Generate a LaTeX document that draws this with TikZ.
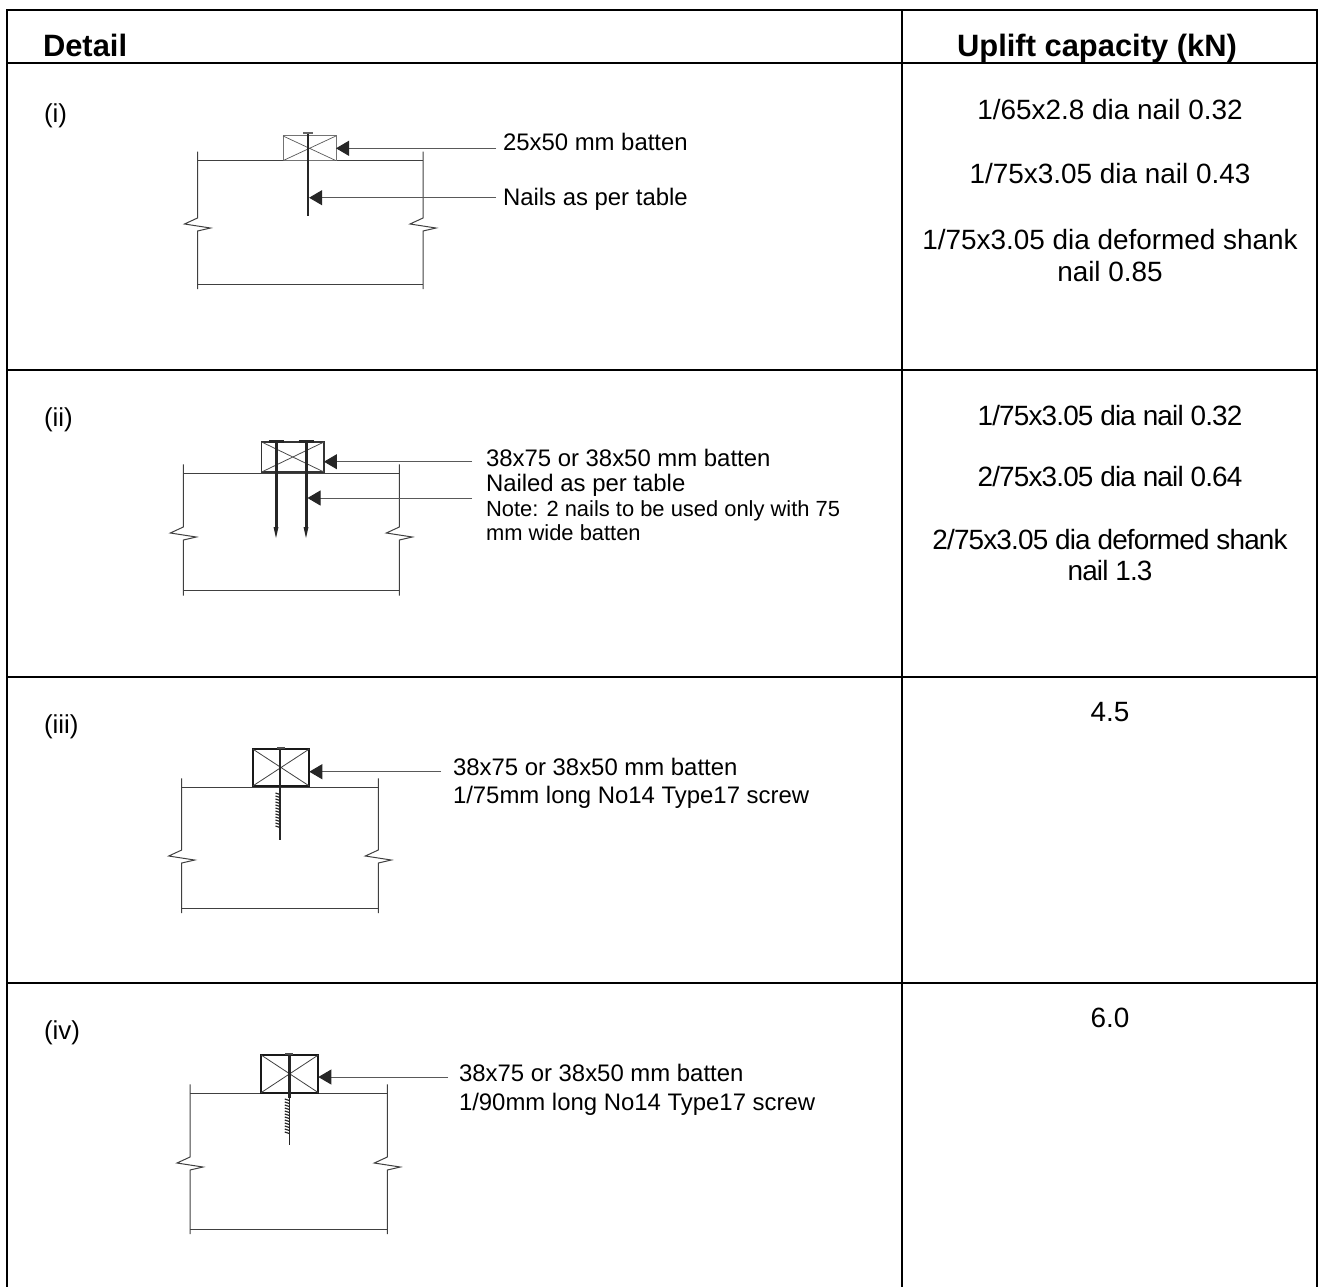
\documentclass[tikz,border=0pt]{standalone}
\usepackage{fontspec}
\setmainfont{Liberation Sans}
\usetikzlibrary{arrows.meta}

\begin{document}
\begin{tikzpicture}[
  x=1bp, y=-1bp,
  every node/.style={inner sep=0pt, outer sep=0pt},
  grid/.style={line width=2.6bp, black},
  head/.style={font=\fontsize{31}{36}\selectfont\bfseries},
  rowlabel/.style={font=\fontsize{26}{30}\selectfont, anchor=base west},
  captext/.style={font=\fontsize{28}{32}\selectfont, anchor=base},
  capnarrow/.style={anchor=base, font=\fontsize{28}{32}\selectfont\addfontfeature{LetterSpace=-3}},
  callout/.style={font=\fontsize{24}{28}\selectfont, anchor=base west},
  note/.style={font=\fontsize{22}{26}\selectfont, anchor=base west},
  joist/.style={line width=1bp, black!75},
  batten/.style={draw, rectangle, inner sep=0pt},
  nail/.style={rectangle, fill=black!85, inner sep=0pt},
  thread/.style={line width=1.2bp, black!85},
  leader/.style={line width=1bp, black!65, -{Triangle[length=13bp,width=15bp,color=black!85]}},
]
\useasboundingbox (0,0) rectangle (1323,1286);

% table
\draw[grid] (7,1300) -- (7,10) -- (1317,10) -- (1317,1300);
\draw[grid] (902,10) -- (902,1300);
\foreach \yy in {63,370,677,983}
  \draw[grid] (7,\yy) -- (1317,\yy);

\node[head, anchor=base west] (detail) at (43,56) {Detail};
\node[head, anchor=base] (uplift) at (1097,56) {Uplift capacity (kN)};

\node[rowlabel] (r1) at (44,122) {(i)};
\node[rowlabel] (r2) at (44,426) {(ii)};
\node[rowlabel] (r3) at (44,733) {(iii)};
\node[rowlabel] (r4) at (44,1039) {(iv)};

% joists with break lines
\foreach \xl/\xr/\yt/\yk/\yb in {197.5/423/160.7/218/284, 183.3/399.3/473.3/527/590.7,
    181.7/378.3/787.3/850/908, 190/387.3/1093.3/1157/1229}
{
  \draw[joist] (\xl,\yt) -- (\xr,\yt);
  \draw[joist] (\xl,\yb) -- (\xr,\yb);
  \foreach \xx in {\xl,\xr}
    \draw[joist] (\xx,\yt-9) -- (\xx,\yk) -- ++(-13,6) -- ++(26,4) -- ++(-13,3) -- (\xx,\yb+5);
}

% (i)
\node[batten, line width=1bp, draw=black!55, minimum width=53bp, minimum height=24.7bp] (bat1) at (309.5,148.3) {};
\draw[line width=0.7bp, black!65] (bat1.north west) -- (bat1.south east) (bat1.north east) -- (bat1.south west);
\node[nail, minimum width=2.2bp, minimum height=83bp] (nail1) at (308,174.5) {};
\draw[line width=1.5bp, black!60] ([xshift=-5bp]nail1.north) -- ([xshift=5bp]nail1.north);
\coordinate (t1a) at (496,148.3);
\coordinate (t1b) at (496,197.7);
\draw[leader] (t1a) -- (bat1.east |- t1a);
\draw[leader] (t1b) -- (nail1.east |- t1b);
\node[callout] (l1a) at (503,150) {25x50 mm batten};
\node[callout] (l1b) at (503,205) {Nails as per table};

\node[captext] (c1a) at (1110,119) {1/65x2.8 dia nail 0.32};
\node[captext] (c1b) at (1110,183) {1/75x3.05 dia nail 0.43};
\node[captext] (c1c) at (1110,249) {1/75x3.05 dia deformed shank};
\node[captext] (c1d) at (1110,281) {nail 0.85};

% (ii)
\node[batten, line width=1.3bp, draw=black!80, minimum width=62.3bp, minimum height=30bp] (bat2) at (292.8,457) {};
\draw[line width=0.8bp, black!70] (bat2.north west) -- (bat2.south east) (bat2.north east) -- (bat2.south west);
\node[nail, minimum width=3bp, minimum height=86bp] (nail2a) at (276,484) {};
\node[nail, minimum width=3bp, minimum height=86bp] (nail2b) at (306,484) {};
\foreach \n in {nail2a,nail2b} {
  \draw[line width=3bp, black!85] ([xshift=-7.5bp]\n.north) -- ([xshift=7.5bp]\n.north);
  \fill[black!85] (\n.south) ++(-2.5,0) -- ++(5,0) -- ++(-2.5,11) -- cycle;
}
\coordinate (t2a) at (472,461.7);
\coordinate (t2b) at (472,498);
\draw[leader] (t2a) -- (bat2.east |- t2a);
\draw[leader] (t2b) -- (nail2b.east |- t2b);
\node[callout] (l2a) at (486,466) {38x75 or 38x50 mm batten};
\node[callout] (l2b) at (486,491) {Nailed as per table};
\node[note] (l2c) at (486,516) {Note: 2 nails to be used only with 75};
\node[note] (l2d) at (486,540) {mm wide batten};

\node[capnarrow] (c2a) at (1110,425) {1/75x3.05 dia nail 0.32};
\node[capnarrow] (c2b) at (1110,486) {2/75x3.05 dia nail 0.64};
\node[capnarrow] (c2c) at (1110,549) {2/75x3.05 dia deformed shank};
\node[capnarrow] (c2d) at (1110,580) {nail 1.3};

% (iii)
\node[batten, line width=2.2bp, draw=black!90, minimum width=56.6bp, minimum height=37bp] (bat3) at (281,767.5) {};
\draw[line width=0.8bp, black!75] (bat3.north west) -- (bat3.south east) (bat3.north east) -- (bat3.south west);
\node[nail, minimum width=2.4bp, minimum height=44bp] (scr3) at (280,770) {};
\draw[line width=1.5bp, black!70] ([xshift=-3bp]scr3.north) -- ([xshift=5bp]scr3.north);
\draw[line width=1.2bp, black!85] (scr3.south) -- ++(0,48);
\foreach \yy in {793,796,...,826}
  \draw[thread] (275.5,\yy) -- (280,\yy+1.5);
\coordinate (t3) at (441,771.7);
\draw[leader] (t3) -- (bat3.east |- t3);
\node[callout] (l3a) at (453,775) {38x75 or 38x50 mm batten};
\node[callout] (l3b) at (453,803) {1/75mm long No14 Type17 screw};

\node[captext] (c3) at (1110,721) {4.5};

% (iv)
\node[batten, line width=2.2bp, draw=black!90, minimum width=57.3bp, minimum height=37.7bp] (bat4) at (289.7,1073.8) {};
\draw[line width=0.8bp, black!75] (bat4.north west) -- (bat4.south east) (bat4.north east) -- (bat4.south west);
\node[nail, minimum width=2.4bp, minimum height=44bp] (scr4) at (289.3,1076) {};
\draw[line width=1.5bp, black!70] ([xshift=-4bp]scr4.north) -- ([xshift=4bp]scr4.north);
\draw[line width=1.2bp, black!85] (scr4.south) -- ++(0,47);
\foreach \yy in {1099,1102,...,1133}
  \draw[thread] (284.8,\yy) -- (289.3,\yy+1.5);
\coordinate (t4) at (448,1077);
\draw[leader] (t4) -- (bat4.east |- t4);
\node[callout] (l4a) at (459,1081) {38x75 or 38x50 mm batten};
\node[callout] (l4b) at (459,1110) {1/90mm long No14 Type17 screw};

\node[captext] (c4) at (1110,1027) {6.0};
\end{tikzpicture}
\end{document}
